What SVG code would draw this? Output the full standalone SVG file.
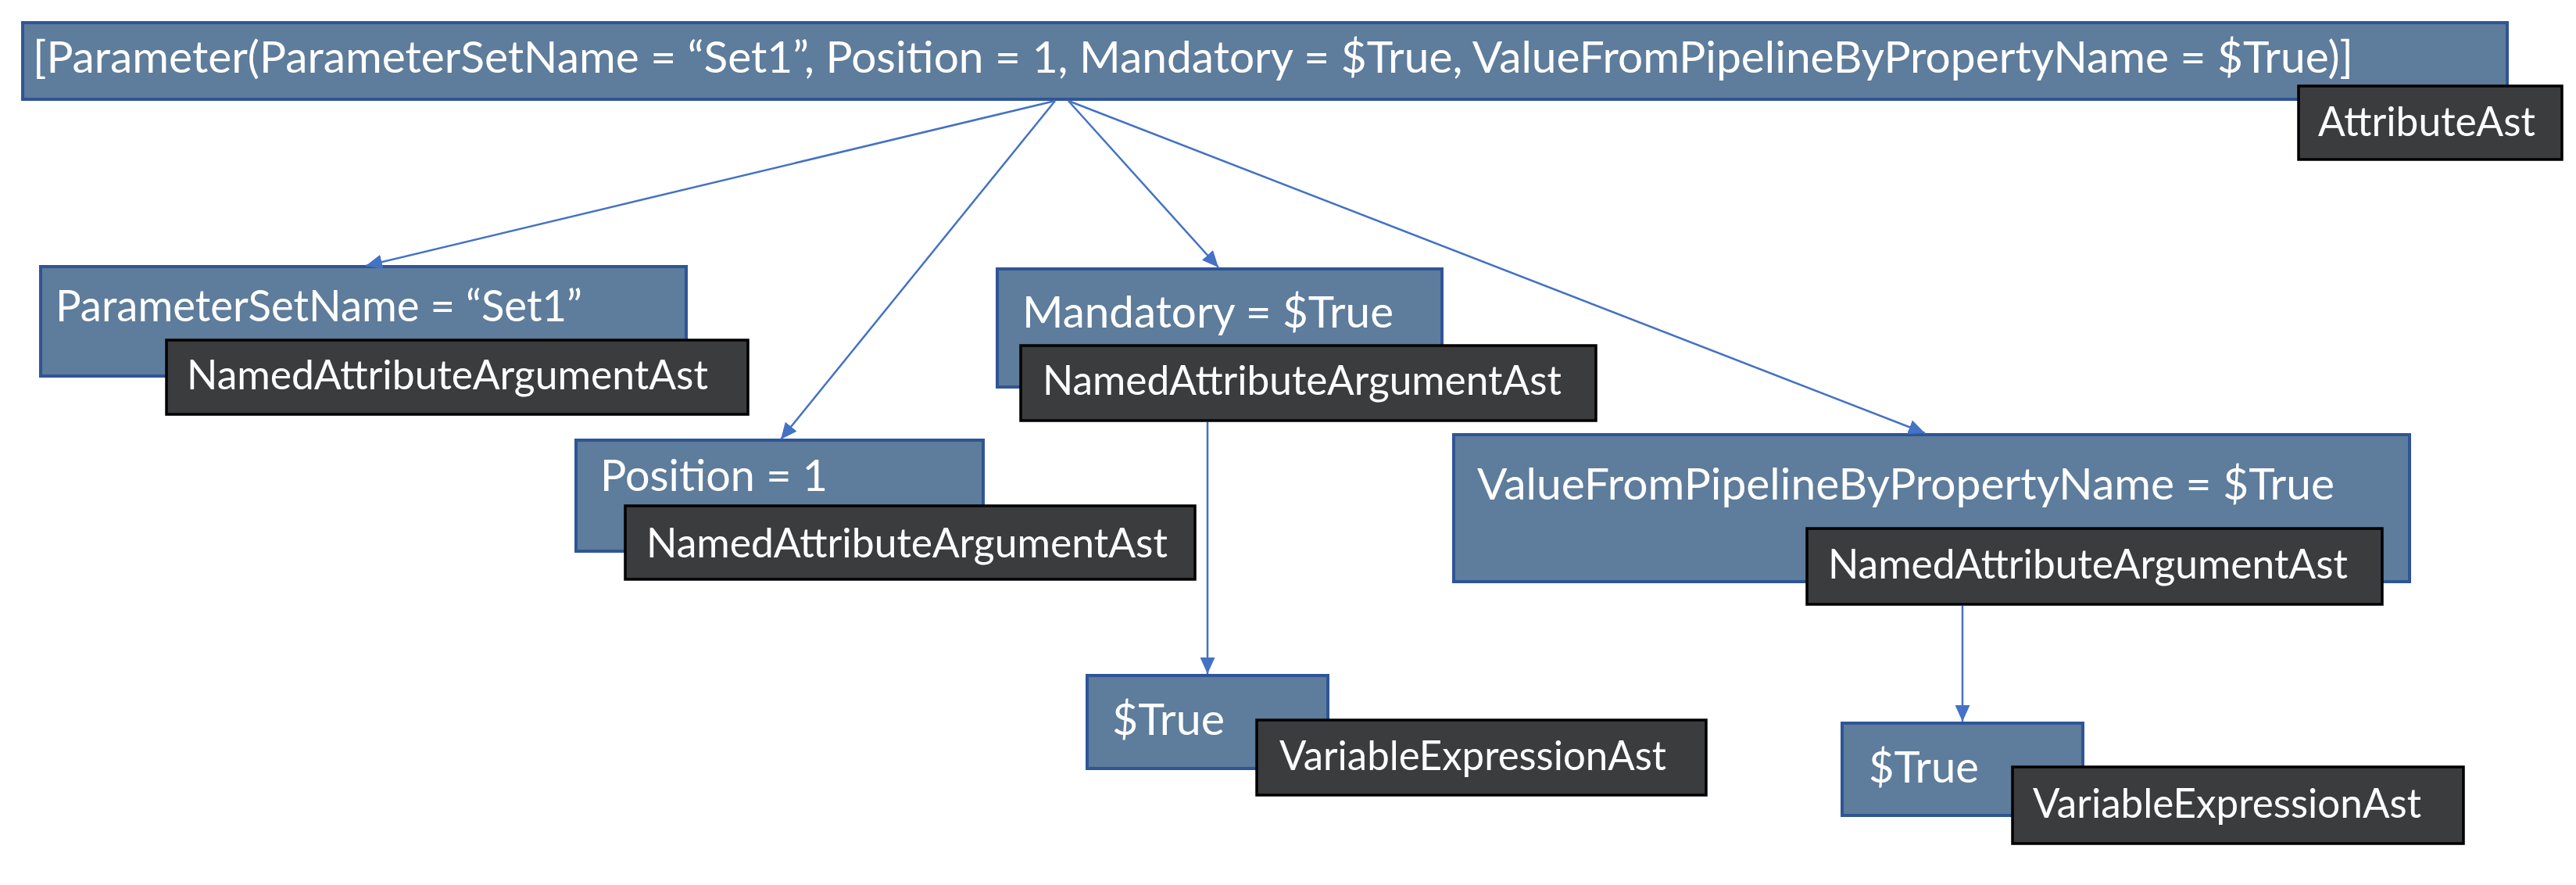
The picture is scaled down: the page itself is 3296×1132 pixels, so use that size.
<svg xmlns="http://www.w3.org/2000/svg" width="3296" height="1132" viewBox="0 0 3296 1132">
<style>
.n{fill:#5E7C9B;stroke:#2F5597;stroke-width:4}
.d{fill:#3B3C3E;stroke:#000;stroke-width:3.5}
.t{fill:#fff;font-family:Lato,"Open Sans","Liberation Sans",sans-serif;font-size:57px}
.l{fill:#fff;font-family:Lato,"Open Sans","Liberation Sans",sans-serif;font-size:53px}
.c{stroke:#4472C4;stroke-width:2.5;fill:none;marker-end:url(#ah)}
</style>
<defs>
<marker id="ah" markerUnits="userSpaceOnUse" markerWidth="21" markerHeight="19" refX="21" refY="9.5" orient="auto">
<path d="M0,0 L21,9.5 L0,19 Z" fill="#4472C4"/>
</marker>
</defs>
<rect width="3296" height="1132" fill="#fff"/>
<g id="n0">
<rect class="n" x="29" y="29" width="3179" height="98"/>
<text class="t" x="42" y="93" textLength="2969" lengthAdjust="spacingAndGlyphs">[Parameter(ParameterSetName = “Set1”, Position = 1, Mandatory = $True, ValueFromPipelineByPropertyName = $True)]</text>
<rect class="d" x="2941" y="110" width="337" height="94"/>
<text class="l" x="2966" y="174" textLength="278" lengthAdjust="spacingAndGlyphs">AttributeAst</text>
</g>
<g id="n1">
<rect class="n" x="52" y="341" width="826" height="140"/>
<text class="t" x="71" y="411" textLength="674" lengthAdjust="spacingAndGlyphs">ParameterSetName = “Set1”</text>
<rect class="d" x="213" y="435" width="744" height="95"/>
<text class="l" x="239" y="498" textLength="667" lengthAdjust="spacingAndGlyphs">NamedAttributeArgumentAst</text>
</g>
<g id="n2">
<rect class="n" x="737" y="563" width="521" height="142"/>
<text class="t" x="768" y="628" textLength="291" lengthAdjust="spacingAndGlyphs">Position = 1</text>
<rect class="d" x="800" y="647" width="729" height="94"/>
<text class="l" x="827" y="713" textLength="667" lengthAdjust="spacingAndGlyphs">NamedAttributeArgumentAst</text>
</g>
<g id="n3">
<rect class="n" x="1276" y="344" width="569" height="151"/>
<text class="t" x="1308" y="419" textLength="475" lengthAdjust="spacingAndGlyphs">Mandatory = $True</text>
<rect class="d" x="1306" y="442" width="736" height="96"/>
<text class="l" x="1334" y="505" textLength="664" lengthAdjust="spacingAndGlyphs">NamedAttributeArgumentAst</text>
</g>
<g id="n4">
<rect class="n" x="1860" y="556" width="1223" height="188"/>
<text class="t" x="1890" y="639" textLength="1097" lengthAdjust="spacingAndGlyphs">ValueFromPipelineByPropertyName = $True</text>
<rect class="d" x="2312" y="676" width="736" height="97"/>
<text class="l" x="2339" y="740" textLength="665" lengthAdjust="spacingAndGlyphs">NamedAttributeArgumentAst</text>
</g>
<g id="n5">
<rect class="n" x="1391" y="864" width="308" height="119"/>
<text class="t" x="1423" y="940" textLength="144" lengthAdjust="spacingAndGlyphs">$True</text>
<rect class="d" x="1608" y="921" width="575" height="96"/>
<text class="l" x="1637" y="985" textLength="495" lengthAdjust="spacingAndGlyphs">VariableExpressionAst</text>
</g>
<g id="n6">
<rect class="n" x="2357" y="925" width="308" height="118"/>
<text class="t" x="2391" y="1001" textLength="141" lengthAdjust="spacingAndGlyphs">$True</text>
<rect class="d" x="2575" y="981" width="577" height="98"/>
<text class="l" x="2601" y="1046" textLength="497" lengthAdjust="spacingAndGlyphs">VariableExpressionAst</text>
</g>
<g id="connectors">
<line class="c" x1="1350" y1="129" x2="468" y2="340"/>
<line class="c" x1="1350" y1="129" x2="999" y2="562"/>
<line class="c" x1="1367" y1="129" x2="1559" y2="342"/>
<line class="c" x1="1367" y1="129" x2="2463" y2="554"/>
<line class="c" x1="1545" y1="540" x2="1545" y2="862"/>
<line class="c" x1="2511" y1="775" x2="2511" y2="923"/>
</g>
</svg>
